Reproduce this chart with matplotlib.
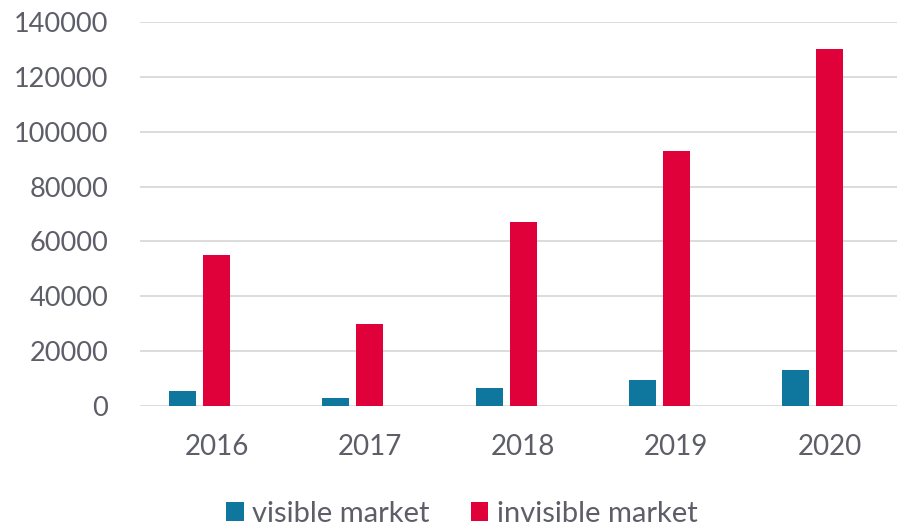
import matplotlib.pyplot as plt
import numpy as np

years = ["2016", "2017", "2018", "2019", "2020"]
visible = [5500, 2900, 6700, 9400, 13000]
invisible = [55000, 30000, 67000, 93000, 130000]

plt.rcParams['font.family'] = ['Lato', 'DejaVu Sans']
txt = '#5d5e68'

fig = plt.figure(figsize=(9, 5.28), dpi=100)
ax = fig.add_axes([140/900, 1 - 406/528, (897 - 140)/900, (406 - 22)/528])

x = np.arange(len(years))
w = 0.176
ax.bar(x - 0.222, visible, w, color='#0f769e', label='visible market', zorder=3)
ax.bar(x, invisible, w, color='#e0003a', label='invisible market', zorder=3)

ax.set_xlim(-0.5, 4.44)
ax.set_ylim(0, 140000)
ax.set_yticks(np.arange(0, 140001, 20000))
ax.set_xticks(x)
ax.set_xticklabels(years)
ax.grid(axis='y', color='#d9d9d9', linewidth=1.3, zorder=0)
for s in ['top', 'right', 'left', 'bottom']:
    ax.spines[s].set_visible(False)
ax.tick_params(axis='y', length=0, pad=23, labelsize=19.5, labelcolor=txt)
ax.tick_params(axis='x', length=0, pad=20, labelsize=20, labelcolor=txt)

fig.legend(loc='center', bbox_to_anchor=(462/900, 1 - 514/528), ncol=2,
           frameon=False, fontsize=21, labelcolor=txt, handlelength=0.6,
           handleheight=0.6, handletextpad=0.3, columnspacing=1.4)

fig.savefig('out.png', dpi=100)
